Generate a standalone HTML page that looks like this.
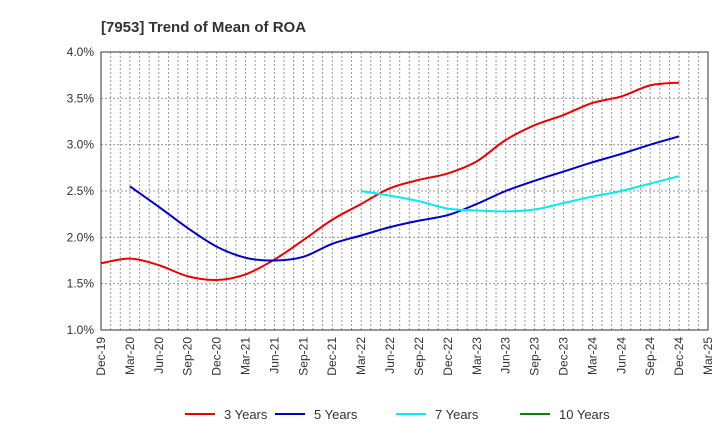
<!DOCTYPE html>
<html><head><meta charset="utf-8"><style>body{margin:0;background:#fff}svg{font-family:"Liberation Sans",sans-serif}</style></head>
<body>
<svg id="c" width="720" height="440"></svg>
<script>
const quarters=["Dec-19","Mar-20","Jun-20","Sep-20","Dec-20","Mar-21","Jun-21","Sep-21","Dec-21","Mar-22","Jun-22","Sep-22","Dec-22","Mar-23","Jun-23","Sep-23","Dec-23","Mar-24","Jun-24","Sep-24","Dec-24","Mar-25"];
const yTicks=[1.0,1.5,2.0,2.5,3.0,3.5,4.0];
const s3=[1.72,1.77,1.70,1.58,1.54,1.60,1.76,1.97,2.19,2.36,2.53,2.62,2.69,2.82,3.05,3.21,3.32,3.45,3.52,3.64,3.67];
const s5=[null,2.55,2.33,2.10,1.90,1.78,1.75,1.79,1.93,2.02,2.11,2.18,2.24,2.36,2.50,2.61,2.71,2.81,2.90,3.00,3.09];
const s7=[null,null,null,null,null,null,null,null,null,2.50,2.45,2.39,2.31,2.29,2.28,2.30,2.37,2.44,2.50,2.58,2.66];
const s10=[];
const NS="http://www.w3.org/2000/svg",svg=document.getElementById('c');
const L=101,R=708,T=52,B=330,ymin=1,ymax=4;
const xq=i=>L+(R-L)*i/(quarters.length-1);
const y=v=>B-(v-ymin)/(ymax-ymin)*(B-T);
function mk(t,a,p){const e=document.createElementNS(NS,t);for(const k in a)e.setAttribute(k,a[k]);(p||svg).appendChild(e);return e;}
const title=mk('text',{x:101,y:32,'font-size':15,'font-weight':'bold',fill:'#333'});


title.textContent='[7953]  Trend of Mean of ROA';
const months=(quarters.length-1)*3;
for(let m=1;m<months;m++){const x=L+(R-L)*m/months;
const g=mk('line',{x1:x,x2:x,y1:T,y2:B,stroke:'#999','stroke-width':1,'stroke-dasharray':'2,2'});

}
yTicks.forEach(v=>{const g=mk('line',{x1:L,x2:R,y1:y(v),y2:y(v),stroke:'#999','stroke-dasharray':'2,2'});


const t=mk('text',{x:L-7,y:y(v)+4,'text-anchor':'end','font-size':12,fill:'#333'});


t.textContent=v.toFixed(1)+'%';});
const fr=mk('rect',{x:L,y:T,width:R-L,height:B-T,fill:'none',stroke:'#333'});


quarters.forEach((q,i)=>{const x=xq(i);const t=mk('text',{transform:`translate(${x+4},${B+7}) rotate(-90)`,'text-anchor':'end','font-size':12,fill:'#333'});


t.textContent=q;});
function path(arr){const p=[];arr.forEach((v,i)=>{if(v!=null)p.push([xq(i),y(v)]);});if(p.length<2)return '';
let d=`M${p[0][0]},${p[0][1]}`;for(let i=0;i<p.length-1;i++){const p0=p[i-1]||p[i],p1=p[i],p2=p[i+1],p3=p[i+2]||p2;
d+=`C${p1[0]+(p2[0]-p0[0])/6},${p1[1]+(p2[1]-p0[1])/6} ${p2[0]-(p3[0]-p1[0])/6},${p2[1]-(p3[1]-p1[1])/6} ${p2[0]},${p2[1]}`;}return d;}
const series=[[s3,'#e00','3 Years','series-3-years'],[s5,'#00c','5 Years','series-5-years'],[s7,'#0ee','7 Years','series-7-years'],[s10,'#080','10 Years','series-10-years']];
const lx=[185,275,396,520];
series.forEach((s,k)=>{const d=path(s[0]);if(d){const pl=mk('path',{d,fill:'none',stroke:s[1],'stroke-width':2});

}
const ln=mk('line',{x1:lx[k],x2:lx[k]+30,y1:414,y2:414,stroke:s[1],'stroke-width':2});


const t=mk('text',{x:lx[k]+39,y:419,'font-size':13,fill:'#333'});


t.textContent=s[2];});
</script>
</body></html>
